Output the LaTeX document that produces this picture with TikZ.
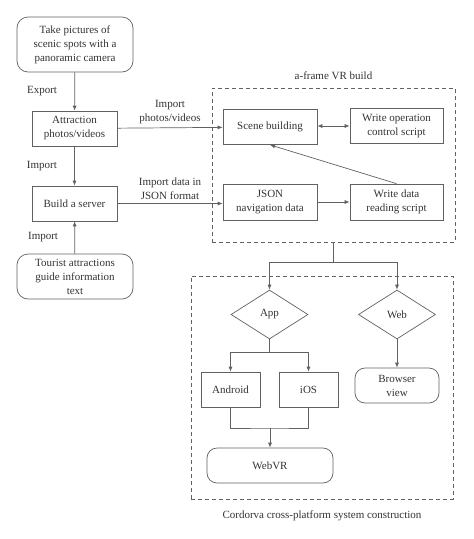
\documentclass[tikz,border=0pt]{standalone}
\usepackage{fontspec}
\setmainfont{Liberation Serif}
\usetikzlibrary{arrows.meta,shapes.geometric}
\definecolor{linec}{gray}{0.38}
\definecolor{textc}{gray}{0.2}
\tikzset{
  box/.style={draw=linec,line width=0.7pt,text=textc,align=center,inner sep=1pt,
    minimum width=85pt,minimum height=35pt},
  rbox/.style={box,rounded corners=11pt},
  dia/.style={draw=linec,line width=0.7pt,text=textc,diamond,inner sep=0pt,
    minimum width=77pt,minimum height=49pt},
  group/.style={draw=linec,line width=0.7pt,dash pattern=on 4pt off 3pt,inner sep=0pt},
  lab/.style={text=textc,align=center,font=\fontsize{11}{14}\selectfont},
  arr/.style={draw=linec,line width=0.7pt,-{Latex[length=5pt,width=4pt]}},
  ln/.style={draw=linec,line width=0.7pt}
}
\begin{document}
\begin{tikzpicture}[x=1pt,y=-1pt,font=\fontsize{11}{14}\selectfont]
\useasboundingbox (0,0) rectangle (474,539);
\node[rbox,minimum width=116pt,minimum height=55pt] (photo) at (75,44.5) {Take pictures of\\scenic spots with a\\panoramic camera};
\node[box] (attr) at (74.5,128.5) {Attraction\\photos/videos};
\node[box] (server) at (74.5,203.5) {Build a server};
\node[rbox,minimum width=116pt,minimum height=45pt] (tourist) at (75,276.5) {Tourist attractions\\guide information\\text};
\node[group,minimum width=243pt,minimum height=154pt,label={[lab,label distance=4pt]above:a-frame VR build}] (aframe) at (333.5,165) {};
\node[box,minimum width=94pt] (scene) at (270,127) {Scene building};
\node[box,minimum width=93pt] (opscript) at (396.5,126) {Write operation\\control script};
\node[box,minimum width=94pt,minimum height=36pt] (json) at (270,202) {JSON\\navigation data};
\node[box,minimum width=93pt,minimum height=36pt] (reading) at (396.5,202) {Write data\\reading script};
\node[group,minimum width=262pt,minimum height=223pt,label={[lab,label distance=8pt]below:Cordorva cross-platform system construction}] (cordova) at (322,387.5) {};
\node[dia] (app) at (269.5,314.5) {App};
\node[dia] (web) at (397,314.5) {Web};
\node[box,minimum width=59pt] (android) at (230.5,389.5) {Android};
\node[box,minimum width=59pt] (ios) at (308.5,389.5) {iOS};
\node[rbox,minimum width=126pt,rounded corners=10pt] (webvr) at (270,465.5) {WebVR};
\node[rbox,minimum width=84pt,rounded corners=10pt] (browser) at (397,385.5) {Browser\\view};
\draw[arr] (photo) -- node[lab,midway,left=14pt] {Export} (attr);
\draw[arr] (attr) -- node[lab,midway,left=14pt] {Import} (server);
\draw[arr] (tourist) -- node[lab,midway,left=13pt] {Import} (server);
\draw[arr] (attr) -- node[lab,midway,above] {Import\\photos/videos} (scene);
\draw[arr] (server.east) -- node[lab,midway,above] {Import data in\\JSON format} (server.east -| json.west);
\draw[arr,{Latex[length=5pt,width=4pt]}-{Latex[length=5pt,width=4pt]}] (scene.east |- opscript) -- (opscript.west);
\draw[arr] (json) -- (reading);
\draw[arr] (reading.north) -- (scene.south);
\draw[ln] (aframe.south) -- ++(0,20) coordinate (split);
\draw[arr] (split) -| (app.north);
\draw[arr] (split) -| (web.north);
\draw[ln] (app.south) -- ++(0,13) coordinate (appsplit);
\draw[arr] (appsplit) -| (android.north);
\draw[arr] (appsplit) -| (ios.north);
\coordinate (vrjoin) at (270,428);
\draw[ln] (android.south) |- (vrjoin) -| (ios.south);
\draw[arr] (vrjoin) -- (webvr.north);
\draw[arr] (web) -- (browser);
\end{tikzpicture}
\end{document}
